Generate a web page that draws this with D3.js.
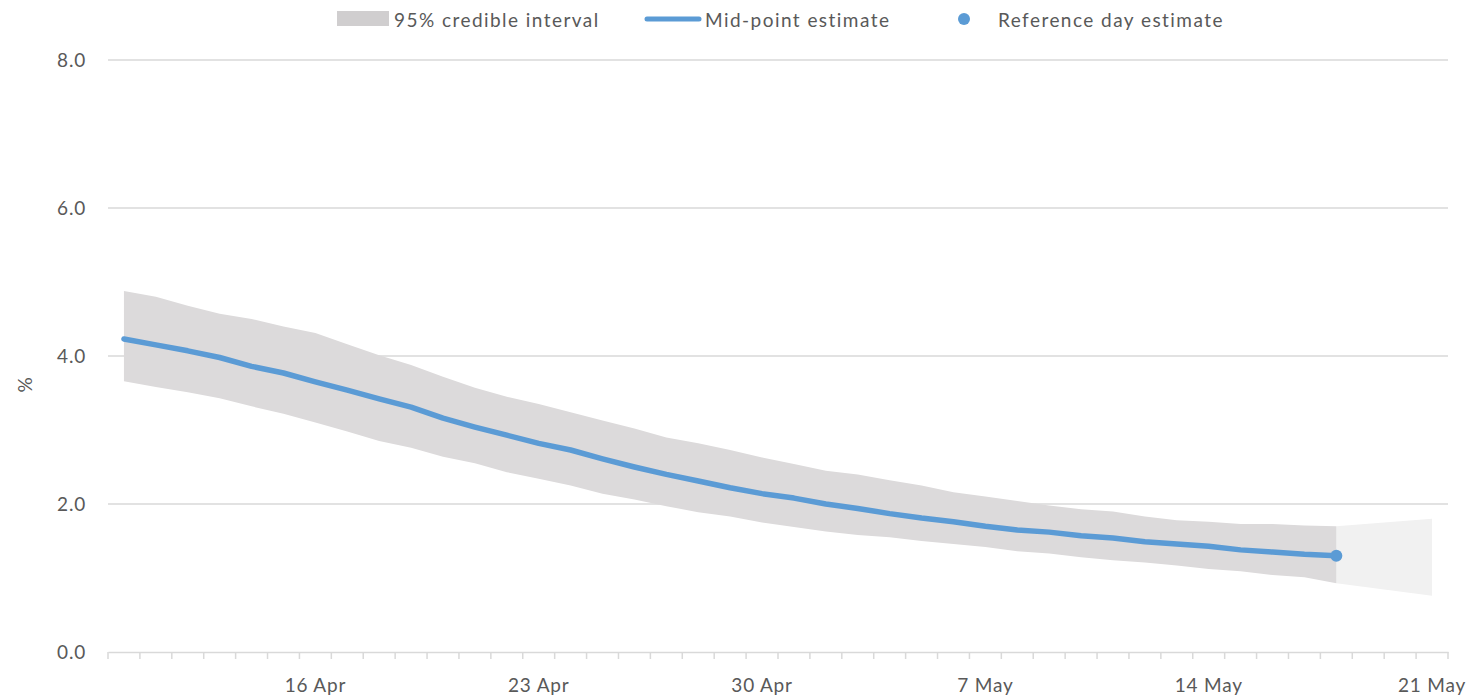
<!DOCTYPE html>
<html><head><meta charset="utf-8">
<script src="https://cdn.jsdelivr.net/npm/d3@7"></script>
<style>body{margin:0;background:#fff}svg text{font-family:Lato,"Open Sans",sans-serif;fill:#595959}</style>
</head><body><svg id="c" width="1474" height="697"></svg>
<script>
const days = ["10 Apr","11 Apr","12 Apr","13 Apr","14 Apr","15 Apr","16 Apr","17 Apr","18 Apr","19 Apr","20 Apr","21 Apr","22 Apr","23 Apr","24 Apr","25 Apr","26 Apr","27 Apr","28 Apr","29 Apr","30 Apr","1 May","2 May","3 May","4 May","5 May","6 May","7 May","8 May","9 May","10 May","11 May","12 May","13 May","14 May","15 May","16 May","17 May","18 May","19 May","20 May","21 May"];
const tickLabels = ["16 Apr","23 Apr","30 Apr","7 May","14 May","21 May"];
const yTicks = [0,2,4,6,8];
const mid = [4.23,4.15,4.07,3.98,3.86,3.77,3.65,3.54,3.42,3.31,3.16,3.04,2.93,2.82,2.73,2.61,2.50,2.40,2.31,2.22,2.14,2.08,2.00,1.94,1.87,1.81,1.76,1.70,1.65,1.62,1.57,1.54,1.49,1.46,1.43,1.38,1.35,1.32,1.30];
const upper = [4.88,4.80,4.68,4.57,4.50,4.40,4.31,4.16,4.01,3.88,3.72,3.57,3.45,3.35,3.24,3.13,3.02,2.90,2.82,2.73,2.63,2.54,2.45,2.40,2.32,2.25,2.16,2.10,2.04,1.98,1.93,1.90,1.83,1.78,1.76,1.73,1.73,1.71,1.70];
const lower = [3.66,3.58,3.51,3.43,3.32,3.22,3.10,2.98,2.85,2.76,2.64,2.55,2.43,2.34,2.25,2.14,2.06,1.97,1.89,1.83,1.75,1.69,1.63,1.58,1.55,1.50,1.46,1.42,1.36,1.33,1.28,1.24,1.21,1.17,1.12,1.09,1.04,1.01,0.93];
const forecastDays = ["18 May","21 May"];
const forecastUpper = [1.70,1.80];
const forecastLower = [0.93,0.76];
const refDay = "18 May";
const refValue = 1.30;

const svg = d3.select("#c");
const x = d3.scaleBand().domain(days).range([108,1448]).padding(0);
const y = d3.scaleLinear().domain([0,8]).range([652,60]);
const cx = d => x(d) + x.bandwidth()/2;

svg.append("g").selectAll("line").data(yTicks.filter(v=>v>0)).join("line")
  .attr("x1",108).attr("x2",1448).attr("y1",d=>y(d)).attr("y2",d=>y(d))
  .attr("stroke","#d9d9d9").attr("stroke-width",1.5);

svg.append("g").selectAll("text").data(yTicks).join("text")
  .attr("x",86).attr("y",d=>y(d)+7).attr("text-anchor","end")
  .attr("font-size",19).attr("letter-spacing","0.8px").text(d=>d.toFixed(1));
svg.append("text").attr("transform","translate(32,385) rotate(-90)")
  .attr("text-anchor","middle").attr("font-size",19).text("%");

const fData = forecastDays.map((d,i)=>({d,u:forecastUpper[i],l:forecastLower[i]}));
svg.append("path").datum(fData)
  .attr("d",d3.area().x(d=>cx(d.d)).y0(d=>y(d.l)).y1(d=>y(d.u)))
  .attr("fill","#f1f1f1");

const data = mid.map((m,i)=>({d:days[i],m,u:upper[i],l:lower[i]}));
svg.append("path").datum(data)
  .attr("d",d3.area().x(d=>cx(d.d)).y0(d=>y(d.l)).y1(d=>y(d.u)))
  .attr("fill","#dcdadb");

const xAxis = d3.axisBottom(x).tickSize(0).tickFormat(d=>tickLabels.includes(d)?d:"");
const gx = svg.append("g").attr("transform","translate(0,652)").call(xAxis);
gx.select(".domain").attr("stroke","#d9d9d9").attr("stroke-width",1.5);
gx.selectAll("text").attr("font-size",19).attr("dy",0).attr("y",40)
  .attr("letter-spacing","0.8px").style("font-family","Lato,sans-serif").attr("fill","#595959");
const bounds = days.map(d=>x(d)).concat([x(days[days.length-1])+x.bandwidth()]);
svg.append("g").selectAll("line").data(bounds).join("line")
  .attr("x1",d=>d).attr("x2",d=>d).attr("y1",652).attr("y2",659)
  .attr("stroke","#d9d9d9").attr("stroke-width",1.5);

svg.append("path").datum(data)
  .attr("d",d3.line().x(d=>cx(d.d)).y(d=>y(d.m)))
  .attr("fill","none").attr("stroke","#5b9bd5").attr("stroke-width",5.5)
  .attr("stroke-linecap","round").attr("stroke-linejoin","round");

svg.append("circle").attr("cx",cx(refDay)).attr("cy",y(refValue)).attr("r",6).attr("fill","#5b9bd5");

const lg = svg.append("g");
lg.append("rect").attr("x",337).attr("y",11).attr("width",52).attr("height",15).attr("fill","#d0cecf");
lg.append("text").attr("x",394).attr("y",27).attr("font-size",19).attr("letter-spacing","1.45px").text("95% credible interval");
lg.append("line").attr("x1",647).attr("x2",699).attr("y1",19).attr("y2",19)
  .attr("stroke","#5b9bd5").attr("stroke-width",5).attr("stroke-linecap","round");
lg.append("text").attr("x",705).attr("y",27).attr("font-size",19).attr("letter-spacing","1.45px").text("Mid-point estimate");
lg.append("circle").attr("cx",964).attr("cy",19).attr("r",6).attr("fill","#5b9bd5");
lg.append("text").attr("x",998).attr("y",27).attr("font-size",19).attr("letter-spacing","1.45px").text("Reference day estimate");
</script></body></html>
